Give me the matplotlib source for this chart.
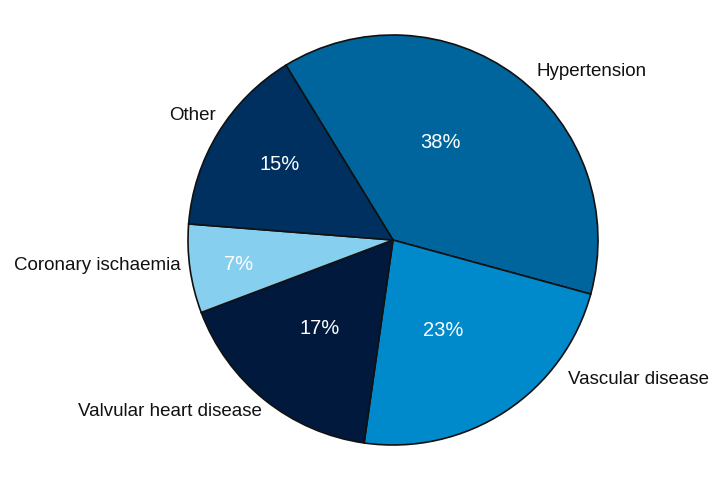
import matplotlib
matplotlib.use("Agg")
import matplotlib.pyplot as plt

causes = ["Hypertension", "Vascular disease", "Valvular heart disease",
          "Coronary ischaemia", "Other"]
shares = [38, 23, 17, 7, 15]
colors = ["#00659c", "#0089cb", "#00193d", "#87cfee", "#00305f"]

# label placement (pixel coords of the 720x480 canvas, y down)
label_xy = [(592, 72), (638, 380), (170, 412), (97, 266), (193, 116)]
pct_xy = [(440, 143), (443, 330), (320, 329), (239, 264), (280, 165)]

plt.rcParams['font.family'] = ['Liberation Sans', 'DejaVu Sans']

fig = plt.figure(figsize=(7.2, 4.8), dpi=100)
ax = fig.add_axes([0, 0, 1, 1])

ax.pie(shares, colors=colors, center=(393, 240), radius=205,
       startangle=121.5, counterclock=False, frame=True,
       wedgeprops=dict(edgecolor='#111111', linewidth=1.2))
ax.set_xlim(0, 720)
ax.set_ylim(0, 480)
ax.set_aspect('equal')
ax.axis('off')

for name, val, (lx, ly), (px, py) in zip(causes, shares, label_xy, pct_xy):
    ax.text(lx, 480 - ly, name, ha='center', va='center', fontsize=13.5, color='#111111')
    ax.text(px, 480 - py, f"{val}%", ha='center', va='center', fontsize=14.5, color='white')

fig.savefig("out.png", dpi=100, facecolor='white')
